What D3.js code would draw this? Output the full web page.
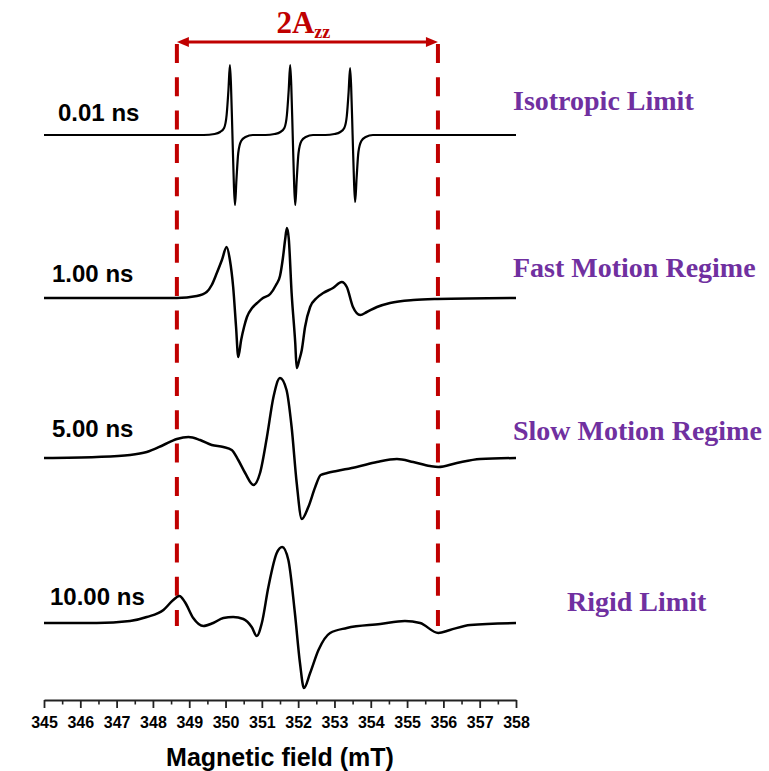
<!DOCTYPE html>
<html>
<head>
<meta charset="utf-8">
<script src="https://cdn.jsdelivr.net/npm/d3@7"></script>
<style>
  body { margin: 0; background: #fff; }
  svg { display: block; }
</style>
</head>
<body>
<svg id="chart" width="769" height="771"></svg>
<script>
// ---- Data -------------------------------------------------------------
// Simulated nitroxide EPR spectra at four rotational correlation times.
// Each point: [magnetic field (mT), first-derivative intensity (a.u.)]
const relaxTimes = ["0.01 ns", "1.00 ns", "5.00 ns", "10.00 ns"];
const regimes = ["Isotropic Limit", "Fast Motion Regime", "Slow Motion Regime", "Rigid Limit"];
const fieldTicks = [345, 346, 347, 348, 349, 350, 351, 352, 353, 354, 355, 356, 357, 358];
const azzBounds = [348.66, 355.85];   // outer hyperfine extrema, 2Azz

const spectrum001 = [
  [345.00, 0], [349.40, 0], [349.70, 1], [349.85, 3], [349.96, 7], [350.03, 20], [350.08, 45],
  [350.12, 70], [350.15, 50], [350.19, 0], [350.23, -50], [350.26, -70], [350.30, -45],
  [350.35, -18], [350.43, -6], [350.55, -2], [350.75, 0],
  [351.10, 0], [351.35, 1], [351.51, 3], [351.62, 7], [351.69, 20], [351.74, 45],
  [351.78, 70], [351.81, 50], [351.85, 0], [351.89, -50], [351.92, -70], [351.96, -45],
  [352.01, -18], [352.09, -6], [352.21, -2], [352.41, 0],
  [352.75, 0], [353.00, 1], [353.16, 3], [353.27, 7], [353.34, 19], [353.39, 43],
  [353.43, 67], [353.46, 48], [353.50, 0], [353.54, -48], [353.57, -67], [353.61, -43],
  [353.66, -17], [353.74, -6], [353.86, -2], [354.06, 0], [358.00, 0]
];

const spectrum100 = [
  [345.00, 0], [348.66, 0], [349.21, 2], [349.48, 6], [349.62, 13], [349.76, 25], [349.90, 38],
  [350.03, 51], [350.12, 38], [350.21, 11], [350.29, -29], [350.35, -59], [350.43, -42],
  [350.51, -29], [350.59, -19], [350.73, -10], [350.87, -5], [351.03, 0], [351.23, 4],
  [351.39, 13], [351.50, 22], [351.58, 40], [351.64, 58], [351.69, 70], [351.74, 60],
  [351.82, 5], [351.92, -45], [351.96, -70], [352.03, -62], [352.10, -52], [352.19, -29],
  [352.33, -9], [352.51, 0], [352.69, 5], [352.96, 10], [353.20, 16], [353.34, 11],
  [353.51, -9], [353.71, -17], [353.89, -14], [354.17, -9], [354.53, -5], [355.17, -2],
  [355.83, -1], [358.00, 0]
];

const spectrum500 = [
  [345.00, 0], [346.45, 1], [347.37, 3], [347.83, 6], [348.29, 13], [348.66, 19], [348.98, 21],
  [349.30, 18], [349.62, 13], [349.94, 11], [350.17, 8], [350.35, -2], [350.54, -15],
  [350.77, -27], [350.95, -15], [351.14, 21], [351.32, 61], [351.50, 80], [351.68, 68],
  [351.82, 31], [351.96, -25], [352.10, -61], [352.28, -49], [352.47, -29], [352.62, -17],
  [352.80, -15], [353.06, -13], [353.61, -9], [354.17, -4], [354.72, -1], [355.17, -4],
  [355.63, -8], [355.86, -9], [356.37, -5], [357.01, -1], [358.00, 0]
];

const spectrum1000 = [
  [345.00, 0], [346.45, 0], [347.37, 2], [347.83, 6], [348.29, 13], [348.56, 23], [348.73, 27],
  [348.88, 21], [349.11, 5], [349.39, -3], [349.66, 0], [349.94, 5], [350.21, 6], [350.49, 4],
  [350.72, -4], [350.86, -13], [351.00, 0], [351.18, 36], [351.41, 70], [351.56, 76],
  [351.73, 63], [351.91, 10], [352.05, -40], [352.16, -65], [352.33, -50], [352.56, -27],
  [352.88, -10], [353.34, -5], [354.26, -1], [354.94, 2], [355.36, 0], [355.86, -10],
  [356.18, -7], [356.74, -2], [358.00, 0]
];

const spectra = [spectrum001, spectrum100, spectrum500, spectrum1000];

// ---- Layout -----------------------------------------------------------
const baselineY = [135, 298, 458, 623];
const timeLabelPos = [[58, 121], [52, 282], [52, 437], [50, 605]];
const regimeLabelPos = [[513, 110], [513, 277], [513, 440], [567, 611]];
const axisY = 700;
const RED = "#C00000";
const PURPLE = "#7030A0";
const SANS = "Arial, 'Liberation Sans', Helvetica, sans-serif";
const SERIF = "'Times New Roman', 'Liberation Serif', Times, serif";

const svg = d3.select("#chart");

const x = d3.scaleLinear().domain([345, 358]).range([44, 516]);
const amp = d3.scaleLinear().domain([-100, 100]).range([100, -100]);

// ---- 2Azz guide lines ---------------------------------------------------
const guideTop = 44, guideBottom = 626, arrowY = 42;
svg.append("g").selectAll("line")
  .data(azzBounds)
  .join("line")
  .attr("x1", d => x(d)).attr("x2", d => x(d))
  .attr("y1", guideTop).attr("y2", guideBottom)
  .attr("stroke", RED)
  .attr("stroke-width", 4)
  .attr("stroke-dasharray", "19,14.3");

// double-headed arrow spanning the outer extrema
const ax0 = x(azzBounds[0]), ax1 = x(azzBounds[1]);
const headL = 12, headW = 5;
svg.append("line")
  .attr("x1", ax0 + headL - 2).attr("x2", ax1 - headL + 2)
  .attr("y1", arrowY).attr("y2", arrowY)
  .attr("stroke", RED).attr("stroke-width", 3);
svg.append("path")
  .attr("d", `M${ax0},${arrowY} L${ax0 + headL},${arrowY - headW} L${ax0 + headL},${arrowY + headW} Z`)
  .attr("fill", RED);
svg.append("path")
  .attr("d", `M${ax1},${arrowY} L${ax1 - headL},${arrowY - headW} L${ax1 - headL},${arrowY + headW} Z`)
  .attr("fill", RED);

const azzLabel = svg.append("text")
  .attr("x", (ax0 + ax1) / 2 - 4)
  .attr("y", 33)
  .attr("text-anchor", "middle")
  .attr("fill", RED)
  .attr("font-family", SERIF)
  .attr("font-weight", "bold")
  .attr("font-size", 31);
azzLabel.append("tspan").text("2A");
azzLabel.append("tspan").attr("font-size", 18).attr("dy", 5).text("zz");

// ---- Spectra ------------------------------------------------------------
const line = d3.line().curve(d3.curveMonotoneX);
svg.append("g").selectAll("path")
  .data(spectra)
  .join("path")
  .attr("d", (s, i) => line(s.map(d => [x(d[0]), baselineY[i] + amp(d[1])])))
  .attr("fill", "none")
  .attr("stroke", "#000")
  .attr("stroke-width", (s, i) => i === 0 ? 2.2 : 2.5)
  .attr("stroke-linejoin", "round");

// correlation-time labels
svg.append("g").selectAll("text")
  .data(relaxTimes)
  .join("text")
  .attr("x", (d, i) => timeLabelPos[i][0])
  .attr("y", (d, i) => timeLabelPos[i][1])
  .attr("font-family", SANS)
  .attr("font-weight", "bold")
  .attr("font-size", 24)
  .attr("fill", "#000")
  .text(d => d);

// motional regime labels
svg.append("g").selectAll("text")
  .data(regimes)
  .join("text")
  .attr("x", (d, i) => regimeLabelPos[i][0])
  .attr("y", (d, i) => regimeLabelPos[i][1])
  .attr("font-family", SERIF)
  .attr("font-weight", "bold")
  .attr("font-size", 28)
  .attr("fill", PURPLE)
  .text(d => d);

// ---- Field axis ---------------------------------------------------------
const minorTicks = d3.range(345.5, 358, 1);
const minorAxis = svg.append("g")
  .attr("transform", `translate(0,${axisY})`)
  .call(d3.axisBottom(x).tickValues(minorTicks).tickSize(4.5).tickSizeOuter(0).tickFormat(""));
minorAxis.select(".domain").remove();
minorAxis.selectAll("line").attr("stroke", "#222").attr("stroke-width", 1.6);

const majorAxis = svg.append("g")
  .attr("transform", `translate(0,${axisY})`)
  .call(d3.axisBottom(x).tickValues(fieldTicks).tickSize(8).tickSizeOuter(0).tickPadding(9).tickFormat(d3.format("d")));
majorAxis.select(".domain").attr("stroke", "#222").attr("stroke-width", 2);
majorAxis.selectAll("line").attr("stroke", "#222").attr("stroke-width", 1.8);
majorAxis.selectAll("text")
  .attr("font-family", SANS)
  .attr("font-weight", "bold")
  .attr("font-size", 16)
  .attr("fill", "#000");

svg.append("text")
  .attr("x", 280)
  .attr("y", 766)
  .attr("text-anchor", "middle")
  .attr("font-family", SANS)
  .attr("font-weight", "bold")
  .attr("font-size", 25)
  .attr("fill", "#000")
  .text("Magnetic field (mT)");
</script>
</body>
</html>
